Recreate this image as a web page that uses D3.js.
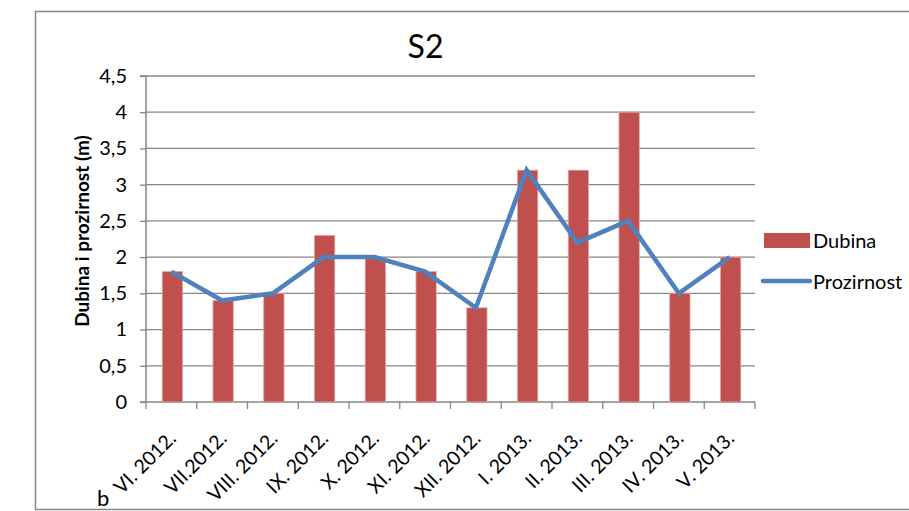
<!DOCTYPE html>
<html><head><meta charset="utf-8">
<script src="https://cdn.jsdelivr.net/npm/d3@7"></script>
<style>body{margin:0;background:#fff}svg{display:block}</style>
</head><body>
<svg id="c" width="909" height="511"></svg>
<script>
const categories = ["VI. 2012.","VII.2012.","VIII. 2012.","IX. 2012.","X. 2012.","XI. 2012.","XII. 2012.","I. 2013.","II. 2013.","III. 2013.","IV. 2013.","V. 2013."];
const dubina = [1.8,1.4,1.5,2.3,2.0,1.8,1.3,3.2,3.2,4.0,1.5,2.0];
const prozirnost = [1.8,1.4,1.5,2.0,2.0,1.8,1.3,3.2,2.2,2.5,1.5,2.0];
const yTicks = [0,0.5,1,1.5,2,2.5,3,3.5,4,4.5];
const yTickLabels = ["0","0,5","1","1,5","2","2,5","3","3,5","4","4,5"];

(function(){
const svg = d3.select("#c");
const font = "Lato, 'Open Sans', sans-serif";
const grey = "#868686";
const red = "#C0504D", blue = "#4F81BD";

// outer frame
svg.append("rect").attr("x",35.5).attr("y",11.5).attr("width",900).attr("height",498)
  .attr("fill","none").attr("stroke",grey).attr("stroke-width",1.5);

const pL=146, pR=755, pT=76, pB=402;
const x = d3.scaleBand().domain(categories).range([pL,pR]).paddingInner(0).paddingOuter(0);
const y = d3.scaleLinear().domain([0,4.5]).range([pB,pT]);

// gridlines
svg.append("g").selectAll("line").data(yTicks.filter(d=>d>0)).join("line")
  .attr("x1",pL).attr("x2",pR).attr("y1",d=>y(d)).attr("y2",d=>y(d))
  .attr("stroke",grey).attr("stroke-width",1.3);

// y axis
const yAxis = d3.axisLeft(y).tickValues(yTicks).tickSize(6).tickPadding(13)
  .tickFormat((d,i)=>yTickLabels[i]);
const gy = svg.append("g").attr("transform",`translate(${pL},0)`).call(yAxis);
gy.select(".domain").attr("stroke",grey).attr("stroke-width",1.5).attr("d",`M-6,${pT}H0V${pB}H-6`);
gy.selectAll(".tick line").attr("stroke",grey).attr("stroke-width",1.3);
gy.selectAll(".tick text").attr("font-family",font).attr("font-size",20).attr("fill","#000");

// x axis
const xAxis = d3.axisBottom(x).tickSize(0).tickFormat("");
const gx = svg.append("g").attr("transform",`translate(0,${pB})`).call(xAxis);
gx.select(".domain").attr("stroke",grey).attr("stroke-width",1.5).attr("d",`M${pL},0H${pR}`);
const bounds = categories.map(c=>x(c)).concat([pR]);
svg.append("g").selectAll("line").data(bounds).join("line")
  .attr("x1",d=>d).attr("x2",d=>d).attr("y1",pB).attr("y2",pB+7)
  .attr("stroke",grey).attr("stroke-width",1.3);
svg.append("g").selectAll("text").data(categories).join("text")
  .attr("transform",d=>`translate(${x(d)+x.bandwidth()/2+1},${pB+33}) rotate(-45)`)
  .attr("text-anchor","end").attr("dy","0.35em")
  .attr("font-family",font).attr("font-size",19.5).attr("fill","#000").text(d=>d);

// bars
const bw = x.bandwidth()*0.4;
svg.append("g").selectAll("rect").data(dubina).join("rect")
  .attr("x",(d,i)=>x(categories[i])+x.bandwidth()/2-bw/2+1)
  .attr("y",d=>y(d)).attr("width",bw).attr("height",d=>pB-y(d))
  .attr("fill",red).attr("stroke","#e3a5a3").attr("stroke-width",0.8);

// line
const line = d3.line().x((d,i)=>x(categories[i])+x.bandwidth()/2).y(d=>y(d));
svg.append("path").datum(prozirnost).attr("d",line)
  .attr("fill","none").attr("stroke",blue).attr("stroke-width",4.5).attr("stroke-linejoin","miter");

// title
svg.append("text").attr("x",425.5).attr("y",58).attr("text-anchor","middle")
  .attr("font-family",font).attr("font-size",32).attr("fill","#000").text("S2");

// y title
svg.append("text").attr("transform","translate(89,231) rotate(-90)").attr("text-anchor","middle")
  .attr("font-family",font).attr("font-size",19).attr("font-weight","bold").attr("fill","#000")
  .text("Dubina i prozirnost (m)");

// legend
svg.append("rect").attr("x",764).attr("y",233).attr("width",46).attr("height",15).attr("fill",red);
svg.append("text").attr("x",813).attr("y",241).attr("dy","0.35em").attr("font-family",font)
  .attr("font-size",20).attr("fill","#000").text("Dubina");
svg.append("line").attr("x1",763).attr("x2",810).attr("y1",281).attr("y2",281)
  .attr("stroke",blue).attr("stroke-width",4.5).attr("stroke-linecap","round");
svg.append("text").attr("x",813).attr("y",282).attr("dy","0.35em").attr("font-family",font)
  .attr("font-size",20).attr("fill","#000").text("Prozirnost");

// panel letter
svg.append("text").attr("x",97).attr("y",506).attr("font-family",font)
  .attr("font-size",22).attr("fill","#000").text("b");
})();
</script>
</body></html>
